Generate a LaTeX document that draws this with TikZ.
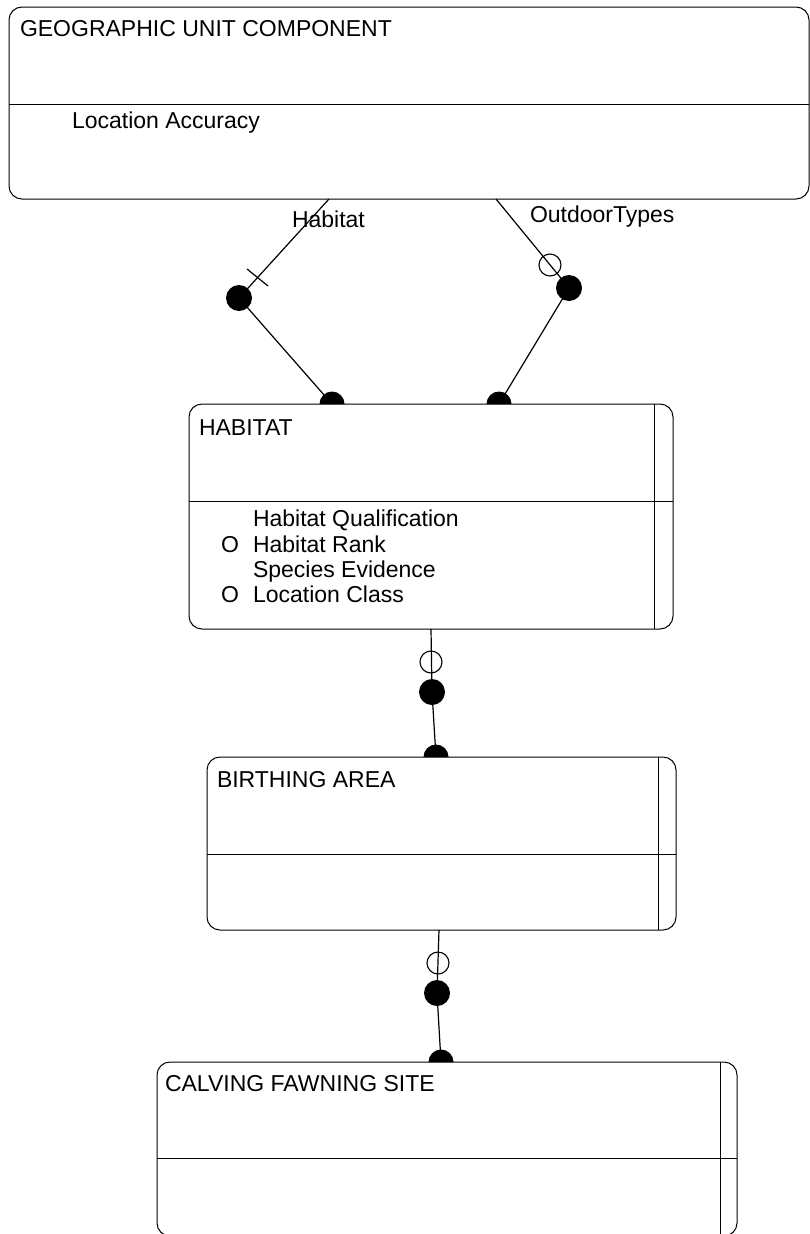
\documentclass[tikz,border=0pt]{standalone}
\usepackage{fontspec}
\setmainfont{Liberation Sans}
\begin{document}
\begin{tikzpicture}[x=1pt,y=-1pt,
  every node/.style={inner sep=0pt, outer sep=0pt},
  lbl/.style={font=\fontsize{23pt}{25.5pt}\selectfont, anchor=base west},
  entity/.style={draw, line width=1pt, rounded corners=13pt, anchor=north west},
  rule/.style={line width=1pt},
  link/.style={line width=1.2pt},
  bigdot/.style={circle, fill, minimum size=26pt},
  ringdot/.style={circle, draw, line width=1.1pt, minimum size=22pt},
  halfdot/.style={fill},
]
\clip (0,0) rectangle (810,1234);

% ---------- entities ----------
% GEOGRAPHIC UNIT COMPONENT
\node[entity, minimum width=800pt, minimum height=192pt] (geo) at (9,7) {};
\draw[rule] (9,104) -- (809,104);
\node[lbl] (geoT) at (20,36) {GEOGRAPHIC UNIT COMPONENT};
\node[lbl] (geoA) at (72,128) {Location Accuracy};

% HABITAT
\node[entity, minimum width=484pt, minimum height=225pt] (hab) at (189,404) {};
\draw[rule] (189,501) -- (673,501);
\draw[rule] (654,404) -- (654,629);
\node[lbl] (habT) at (199,435) {HABITAT};
\node[lbl] (habA1) at (253,526) {Habitat Qualification};
\node[lbl] (habO2) at (221,552) {O};
\node[lbl] (habA2) at (253,552) {Habitat Rank};
\node[lbl] (habA3) at (253,577) {Species Evidence};
\node[lbl] (habO4) at (221,602) {O};
\node[lbl] (habA4) at (253,602) {Location Class};

% BIRTHING AREA
\node[entity, minimum width=469pt, minimum height=173pt] (bir) at (207,757) {};
\draw[rule] (207,854) -- (676,854);
\draw[rule] (658,757) -- (658,930);
\node[lbl] (birT) at (217,787) {BIRTHING AREA};

% CALVING FAWNING SITE
\node[entity, minimum width=580pt, minimum height=174pt] (cal) at (157,1062) {};
\draw[rule] (157,1158) -- (737,1158);
\draw[rule] (720,1062) -- (720,1236);
\node[lbl] (calT) at (165,1091) {CALVING FAWNING SITE};

% ---------- relationships ----------
% Habitat
\coordinate (r1s) at (329,199);
\node[bigdot] (r1d) at (239,298) {};
\coordinate (r1e) at (332,404);
\draw[link] (r1s) -- (r1d.center) -- (r1e);
\draw[link] (247,269) -- (268,286);
\fill[halfdot] (r1e) ++(-12.5,0) arc[start angle=180, end angle=360, radius=12.5] -- cycle;
\node[lbl] (r1l) at (292,227) {Habitat};

% OutdoorTypes
\coordinate (r2s) at (496,199);
\node[ringdot] (r2o) at (550,265) {};
\node[bigdot] (r2d) at (569,288) {};
\coordinate (r2e) at (499,404);
\draw[link] (r2s) -- (r2d.center) -- (r2e);
\fill[halfdot] (r2e) ++(-12.5,0) arc[start angle=180, end angle=360, radius=12.5] -- cycle;
\node[lbl] (r2l) at (530,222) {OutdoorTypes};

% HABITAT to BIRTHING AREA
\coordinate (r3s) at (431,629);
\node[ringdot] (r3o) at (431,662) {};
\node[bigdot] (r3d) at (432,692) {};
\coordinate (r3e) at (436,757);
\draw[link] (r3s) -- (r3d.center) -- (r3e);
\fill[halfdot] (r3e) ++(-12.5,0) arc[start angle=180, end angle=360, radius=12.5] -- cycle;

% BIRTHING AREA to CALVING FAWNING SITE
\coordinate (r4s) at (439,930);
\node[ringdot] (r4o) at (438,963) {};
\node[bigdot] (r4d) at (437,993) {};
\coordinate (r4e) at (441,1062);
\draw[link] (r4s) -- (r4d.center) -- (r4e);
\fill[halfdot] (r4e) ++(-12.5,0) arc[start angle=180, end angle=360, radius=12.5] -- cycle;
\end{tikzpicture}
\end{document}
